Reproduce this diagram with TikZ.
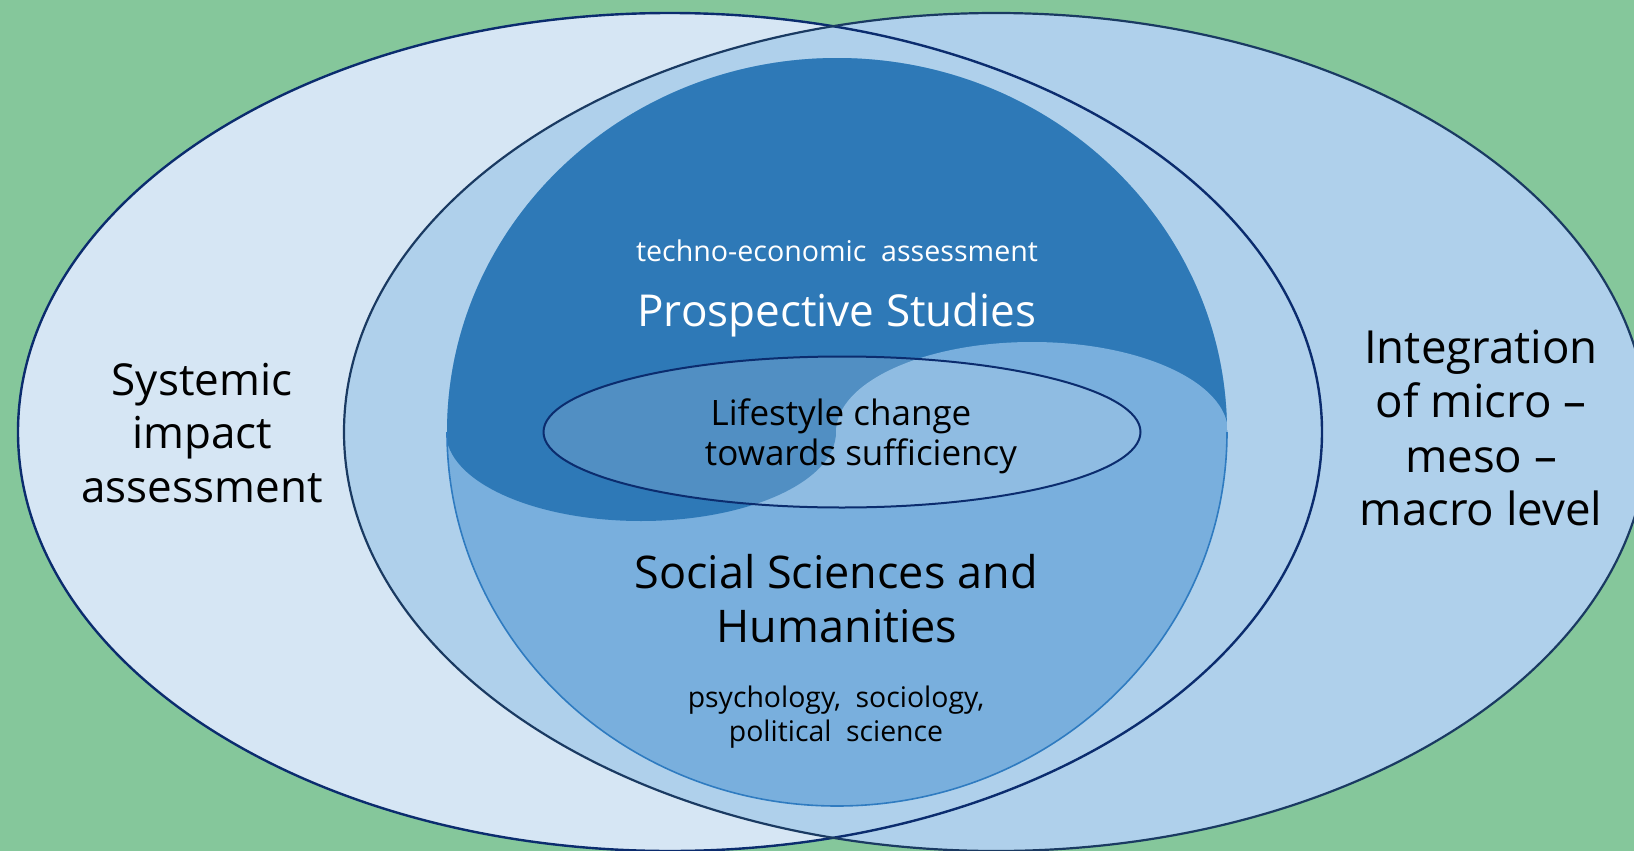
\documentclass[tikz,border=0pt]{standalone}
\usepackage{fontspec}
\setmainfont{Open Sans}
\definecolor{bggreen}{HTML}{85C79B}
\definecolor{leftfill}{HTML}{D6E6F4}
\definecolor{rightfill}{HTML}{AFD0EB}
\definecolor{navyline}{HTML}{0B2C6E}
\definecolor{slateline}{HTML}{1A3A62}
\definecolor{lowerfill}{HTML}{79AFDD}
\definecolor{darkblue}{HTML}{2E79B7}
\definecolor{loweredge}{HTML}{2F7BC0}
\tikzset{
  lbl/.style={anchor=base, inner sep=0pt, text=black},
  sidefont/.style={font=\fontsize{22}{27}\selectfont},
  rsidefont/.style={font=\fontsize{22.8}{27}\selectfont},
  bigfont/.style={font=\fontsize{22.5}{27}\selectfont},
  prosfont/.style={font=\fontsize{22}{27}\selectfont},
  midfont/.style={font=\fontsize{17.5}{21}\selectfont},
  smallfont/.style={font=\fontsize{14.3}{17}\selectfont},
  subfont/.style={font=\fontsize{14.2}{17}\selectfont},
}
\begin{document}
\begin{tikzpicture}[x=0.5pt, y=-0.5pt]
\useasboundingbox (0,0) rectangle (1634,851);
\clip (0,0) rectangle (1634,851);
\fill[bggreen] (0,0) rectangle (1634,851);
% big ellipses
\fill[leftfill] (670,432) ellipse [x radius=326pt, y radius=209.5pt];
\fill[rightfill] (996,432) ellipse [x radius=326pt, y radius=209.5pt];
% middle ellipse (light lower part)
\fill[lowerfill] (837,432) ellipse [x radius=195pt, y radius=187pt];
\begin{scope}
  \clip (837,432) ellipse [x radius=195pt, y radius=187pt];
  \fill[darkblue] (400,432) rectangle (1280,0);
  \fill[darkblue] (641,432) ellipse [x radius=97.5pt, y radius=44.5pt];
  \fill[lowerfill] (1032,432) ellipse [x radius=98pt, y radius=45pt];
\end{scope}
\draw[loweredge, line width=0.8pt] (447,432) arc[start angle=180, end angle=360, x radius=195pt, y radius=187pt];
% outlines of big ellipses
\draw[navyline, line width=1.2pt] (670,432) ellipse [x radius=326pt, y radius=209.5pt];
\draw[slateline, line width=1.1pt] (996,432) ellipse [x radius=326pt, y radius=209.5pt];
% central ellipse
\fill[white, fill opacity=0.17] (842,432) ellipse [x radius=149.25pt, y radius=37.75pt];
\draw[navyline, line width=1pt] (842,432) ellipse [x radius=149.25pt, y radius=37.75pt];
% texts
\node[lbl, sidefont] (sys1) at (202,395) {Systemic};
\node[lbl, sidefont] (sys2) at (202,448) {impact};
\node[lbl, sidefont] (sys3) at (202,502) {assessment};
\node[lbl, rsidefont] (int1) at (1481,363) {Integration};
\node[lbl, rsidefont] (int2) at (1481,417) {of micro –};
\node[lbl, rsidefont] (int3) at (1481,472) {meso –};
\node[lbl, rsidefont] (int4) at (1481,525) {macro level};
\node[lbl, smallfont, text=white] (tea) at (837,261) {techno-economic\hspace{0.25em} assessment};
\node[lbl, prosfont, text=white] (pros) at (837,326) {Prospective Studies};
\node[lbl, midfont] (life1) at (841,425) {Lifestyle change};
\node[lbl, midfont] (life2) at (861,465) {towards sufficiency};
\node[lbl, bigfont] (soc1) at (836,588) {Social Sciences and};
\node[lbl, bigfont] (soc2) at (837,642) {Humanities};
\node[lbl, subfont] (psy1) at (836,707) {psychology,\hspace{0.25em} sociology,};
\node[lbl, subfont] (psy2) at (836,741) {political\hspace{0.25em} science};
\end{tikzpicture}
\end{document}
